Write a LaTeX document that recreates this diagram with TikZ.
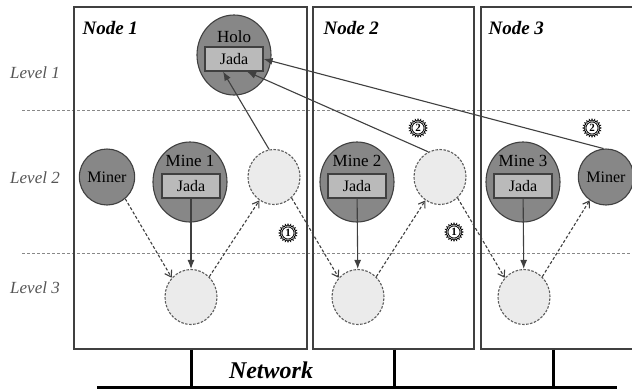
\documentclass[tikz,border=0pt]{standalone}
\usepackage{fontspec}
\setmainfont{Liberation Serif}
\usetikzlibrary{arrows.meta,shapes.geometric,shapes.symbols,calc}
\definecolor{solidfill}{HTML}{878787}
\definecolor{jadafill}{HTML}{BABABA}
\definecolor{ghostfill}{HTML}{EBEBEB}
\definecolor{edgegrey}{HTML}{404040}
\definecolor{levelgrey}{HTML}{555555}
\tikzset{
  host/.style={draw=edgegrey, line width=1.3pt, rectangle, inner sep=0pt},
  levelline/.style={draw=levelgrey!70, line width=0.9pt, dash pattern=on 3pt off 2pt},
  leveltext/.style={text=levelgrey, font=\fontsize{17}{17}\selectfont\itshape},
  hosttext/.style={anchor=west, font=\fontsize{19}{19}\selectfont\bfseries\itshape},
  proc/.style={ellipse, draw=edgegrey, line width=1.1pt, fill=solidfill, inner sep=0pt,
    minimum width=74pt, minimum height=80pt},
  miner/.style={ellipse, draw=edgegrey, line width=1.1pt, fill=solidfill, inner sep=0pt,
    minimum width=51pt, minimum height=56pt, font=\fontsize{16}{16}\selectfont},
  ghost/.style={ellipse, draw=edgegrey!85, line width=1.1pt, dash pattern=on 2.5pt off 1.5pt,
    fill=ghostfill, inner sep=0pt, minimum width=52pt, minimum height=55pt},
  jada/.style={rectangle, draw=edgegrey, line width=1.2pt, fill=jadafill, inner sep=0pt,
    minimum width=58pt, minimum height=24pt, font=\fontsize{16}{16}\selectfont},
  proctext/.style={font=\fontsize{17}{17}\selectfont, inner sep=0pt},
  seal/.style={starburst, starburst points=20, starburst point height=2.2pt, random starburst=0,
    draw=black, line width=0.7pt, fill=white, inner sep=0pt, minimum size=18pt},
  sealtext/.style={circle, draw=black, line width=0.7pt, inner sep=0pt, minimum size=12pt,
    font=\fontsize{11}{11}\selectfont\bfseries},
  push/.style={draw=edgegrey, line width=1.1pt, -{Latex[length=9pt,width=7pt]}},
  hop/.style={draw=edgegrey, line width=1.1pt, dash pattern=on 3pt off 2pt,
    -{Straight Barb[length=6pt,width=8pt]}},
  netlink/.style={draw=black, line width=3pt},
}
\begin{document}
\begin{tikzpicture}[x=1pt,y=-1pt]
\clip (0,0) rectangle (632,389);
\fill[white] (0,0) rectangle (632,389);

% level separators and labels
\draw[levelline] (22,110) -- (632,110);
\draw[levelline] (22,253) -- (632,253);
\node[leveltext] (lv1) at (35,73) {Level 1};
\node[leveltext] (lv2) at (35,178) {Level 2};
\node[leveltext] (lv3) at (35,288) {Level 3};

% host boxes
\node[host, minimum width=233pt, minimum height=342pt] (box1) at (190.5,178) {};
\node[host, minimum width=161pt, minimum height=342pt] (box2) at (393.5,178) {};
\node[host, minimum width=160pt, minimum height=342pt] (box3) at (561,178) {};
\node[hosttext] (h1) at (79,28) {Node 1};
\node[hosttext] (h2) at (320,28) {Node 2};
\node[hosttext] (h3) at (485,28) {Node 3};

% level 1
\node[proc] (holo) at (234,55) {};
\node[proctext] (holot) at (234,37) {Holo};
\node[jada] (hjada) at (234,59) {Jada};

% level 2
\node[miner] (miner1) at (107,177) {Miner};
\node[proc] (mine1) at (190,182) {};
\node[proctext] (mine1t) at (190,161) {Mine 1};
\node[jada] (jada1) at (191,186) {Jada};
\node[ghost] (g1) at (274,177) {};

\node[proc] (mine2) at (357,182) {};
\node[proctext] (mine2t) at (357,161) {Mine 2};
\node[jada] (jada2) at (357,186) {Jada};
\node[ghost] (g2) at (440,177) {};

\node[proc] (mine3) at (523,182) {};
\node[proctext] (mine3t) at (523,161) {Mine 3};
\node[jada] (jada3) at (523,186) {Jada};
\node[miner] (miner3) at (606,177) {Miner};

% level 3
\node[ghost] (l3a) at (191,297) {};
\node[ghost] (l3b) at (358,297) {};
\node[ghost] (l3c) at (524,297) {};

% downward pushes
\draw[push] (jada1) -- (l3a);
\draw[push] (jada2) -- (l3b);
\draw[push] (jada3) -- (l3c);

% dashed hops
\draw[hop] (miner1.-50) -- (l3a.135);
\draw[hop] (l3a.48) -- (g1.-122);
\draw[hop] (g1.-50) -- (l3b.135);
\draw[hop] (l3b.48) -- (g2.-122);
\draw[hop] (g2.-50) -- (l3c.135);
\draw[hop] (l3c.48) -- (miner3.-125);

% reports up to Holo
\draw[push] (g1.100) -- ($(hjada.south)+(-11,0)$);
\draw[push] (g2.115) -- ($(hjada.south)+(13,0)$);
\draw[push] (miner3.95) -- (hjada.east);

% step markers
\node[seal] (s1a) at (288,233) {};
\node[sealtext] (s1at) at (288,233) {1};
\node[seal] (s1b) at (454,232) {};
\node[sealtext] (s1bt) at (454,232) {1};
\node[seal] (s2a) at (418,128) {};
\node[sealtext] (s2at) at (418,128) {2};
\node[seal] (s2b) at (592,128) {};
\node[sealtext] (s2bt) at (592,128) {2};

% network bus
\coordinate (busL) at (97,387);
\coordinate (busR) at (617,387);
\coordinate (t1) at (191,387);
\coordinate (t2) at (394,387);
\coordinate (t3) at (553,387);
\draw[netlink] (busL) -- (busR);
\draw[netlink] (t1 |- box1.south) -- (t1);
\draw[netlink] (t2 |- box2.south) -- (t2);
\draw[netlink] (t3 |- box3.south) -- (t3);
\node[font=\fontsize{24}{24}\selectfont\bfseries\itshape] (net) at (271,370) {Network};
\end{tikzpicture}
\end{document}
